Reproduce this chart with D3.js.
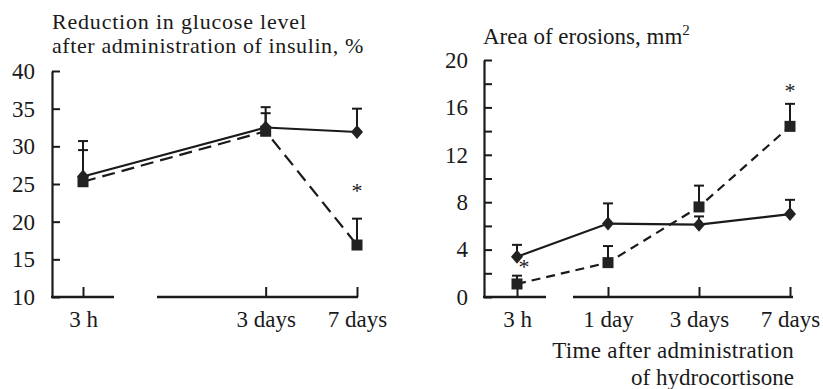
<!DOCTYPE html>
<html>
<head>
<meta charset="utf-8">
<script src="https://cdn.jsdelivr.net/npm/d3@7"></script>
<style>
  body { margin: 0; background: #fff; }
  svg { display: block; }
  text { font-family: "Liberation Serif", "DejaVu Serif", serif; fill: #1a1a1a; }
</style>
</head>
<body>
<svg id="chart" width="823" height="389"></svg>
<script>
// time points (shared slots; left panel skips "1 day")
const timeSlots = ['3 h', '1 day', '3 days', '7 days']

// left panel: reduction in glucose level after insulin, %
const leftTimes = ['3 h', '3 days', '7 days']
const leftTicks = [10, 15, 20, 25, 30, 35, 40]
const leftDiamond = [26.0, 32.5, 31.9]
const leftDiamondErr = [30.7, 35.2, 35.0]
const leftSquare = [25.3, 32.0, 16.9]
const leftSquareErr = [29.5, 34.4, 20.4]
const leftStars = [{ t: '7 days', v: 23.1 }]

// right panel: area of erosions, mm2
const rightTimes = ['3 h', '1 day', '3 days', '7 days']
const rightTicks = [0, 2, 4, 6, 8, 10, 12, 14, 16, 18, 20]
const rightDiamond = [3.4, 6.2, 6.1, 7.0]
const rightDiamondErr = [4.4, 7.9, 6.8, 8.2]
const rightSquare = [1.1, 2.9, 7.6, 14.4]
const rightSquareErr = [1.8, 4.3, 9.4, 16.3]
const rightStars = [{ t: '3 h', v: 1.9, dx: 7 }, { t: '7 days', v: 16.8, dx: 0 }]

const svg = d3.select('#chart')
const ink = '#1a1a1a'

function panel(cfg) {
    const g = svg.append('g')

    const x = d3.scalePoint().domain(timeSlots).range(cfg.xRange)
    const y = d3.scaleLinear().domain(cfg.yDomain).range([297, cfg.yTop])

    // y axis //
    const yAxis = d3.axisLeft(y)
        .tickValues(cfg.yTicks)
        .tickSizeInner(-8)
        .tickSizeOuter(0)
        .tickPadding(cfg.labelPad)
        .tickFormat(d => cfg.yLabels.includes(d) ? d : '')

    const ya = g.append('g')
        .attr('transform', `translate(${cfg.axisX},0)`)
        .call(yAxis)
    ya.select('.domain').attr('stroke', ink).attr('stroke-width', 2.2)
    ya.selectAll('.tick line').attr('stroke', ink).attr('stroke-width', 2)
    ya.selectAll('.tick text')
        .style('font-size', '23px')
        .style('font-family', '"Liberation Serif", serif')
        .attr('fill', ink)

    // x axis (broken baseline) //
    const xAxis = d3.axisBottom(x)
        .tickValues(cfg.times)
        .tickSizeInner(-10)
        .tickSizeOuter(0)
        .tickPadding(14)

    const xa = g.append('g')
        .attr('transform', 'translate(0,297)')
        .call(xAxis)
    xa.select('.domain').remove()
    xa.selectAll('.tick line').attr('stroke', ink).attr('stroke-width', 2)
    xa.selectAll('.tick text')
        .style('font-size', '23px')
        .style('font-family', '"Liberation Serif", serif')
        .attr('fill', ink)

    cfg.segments.forEach(s => {
        g.append('line')
            .attr('x1', s[0]).attr('x2', s[1])
            .attr('y1', 297).attr('y2', 297)
            .attr('stroke', ink)
            .attr('stroke-width', 2.4)
    })

    const line = d3.line()
        .x(d => x(d.t))
        .y(d => y(d.v))

    const diamonds = cfg.times.map((t, i) => ({ t, v: cfg.diamond[i], e: cfg.diamondErr[i] }))
    const squares = cfg.times.map((t, i) => ({ t, v: cfg.square[i], e: cfg.squareErr[i] }))

    // error bars (upper only) //
    function errBars(data) {
        const eb = g.append('g')
        eb.selectAll('line.v').data(data).join('line')
            .attr('x1', d => x(d.t)).attr('x2', d => x(d.t))
            .attr('y1', d => y(d.v)).attr('y2', d => y(d.e))
            .attr('stroke', ink).attr('stroke-width', 2)
        eb.selectAll('line.c').data(data).join('line')
            .attr('x1', d => x(d.t) - 5).attr('x2', d => x(d.t) + 5)
            .attr('y1', d => y(d.e)).attr('y2', d => y(d.e))
            .attr('stroke', ink).attr('stroke-width', 2)
    }
    errBars(squares)
    errBars(diamonds)

    // lines //
    g.append('path')
        .attr('d', line(squares))
        .attr('fill', 'none')
        .attr('stroke', ink)
        .attr('stroke-width', 2.2)
        .attr('stroke-dasharray', cfg.dash)

    g.append('path')
        .attr('d', line(diamonds))
        .attr('fill', 'none')
        .attr('stroke', ink)
        .attr('stroke-width', 2.2)

    // markers //
    g.selectAll('rect.sq').data(squares).join('rect')
        .attr('x', d => x(d.t) - 5.5)
        .attr('y', d => y(d.v) - 5.5)
        .attr('width', 11)
        .attr('height', 11)
        .attr('fill', '#222')

    g.selectAll('path.dm').data(diamonds).join('path')
        .attr('d', d => {
            const cx = x(d.t), cy = y(d.v)
            return `M${cx},${cy - 7}L${cx + 6},${cy}L${cx},${cy + 7}L${cx - 6},${cy}Z`
        })
        .attr('fill', '#222')

    // significance marks //
    g.selectAll('text.star').data(cfg.stars).join('text')
        .attr('x', d => x(d.t) + (d.dx || 0))
        .attr('y', d => y(d.v))
        .attr('text-anchor', 'middle')
        .style('font-size', '22px')
        .text('*')

    return { x, y }
}

panel({
    xRange: [83, 357],
    axisX: 52,
    yDomain: [10, 40],
    yTop: 71,
    yTicks: leftTicks,
    yLabels: leftTicks,
    labelPad: 17,
    times: leftTimes,
    diamond: leftDiamond,
    diamondErr: leftDiamondErr,
    square: leftSquare,
    squareErr: leftSquareErr,
    stars: leftStars,
    segments: [[51, 114], [157, 358]],
    dash: '13,7'
})

panel({
    xRange: [517, 790],
    axisX: 484,
    yDomain: [0, 20],
    yTop: 60,
    yTicks: rightTicks,
    yLabels: [0, 4, 8, 12, 16, 20],
    labelPad: 16,
    times: rightTimes,
    diamond: rightDiamond,
    diamondErr: rightDiamondErr,
    square: rightSquare,
    squareErr: rightSquareErr,
    stars: rightStars,
    segments: [[483, 546], [573, 793]],
    dash: '9,6'
})

// titles //
svg.append('text')
    .attr('x', 52).attr('y', 29)
    .style('font-size', '22px')
    .style('letter-spacing', '0.8px')
    .text('Reduction in glucose level')

svg.append('text')
    .attr('x', 52).attr('y', 53)
    .style('font-size', '22px')
    .style('letter-spacing', '0.6px')
    .text('after administration of insulin, %')

const rt = svg.append('text')
    .attr('x', 483).attr('y', 44)
    .style('font-size', '23px')
rt.append('tspan').text('Area of erosions, mm')
rt.append('tspan')
    .attr('dy', -9)
    .style('font-size', '15px')
    .text('2')

svg.append('text')
    .attr('x', 794).attr('y', 358)
    .attr('text-anchor', 'end')
    .style('font-size', '23px')
    .style('letter-spacing', '0.3px')
    .text('Time after administration')

svg.append('text')
    .attr('x', 794).attr('y', 385)
    .attr('text-anchor', 'end')
    .style('font-size', '23px')
    .text('of hydrocortisone')
</script>
</body>
</html>
